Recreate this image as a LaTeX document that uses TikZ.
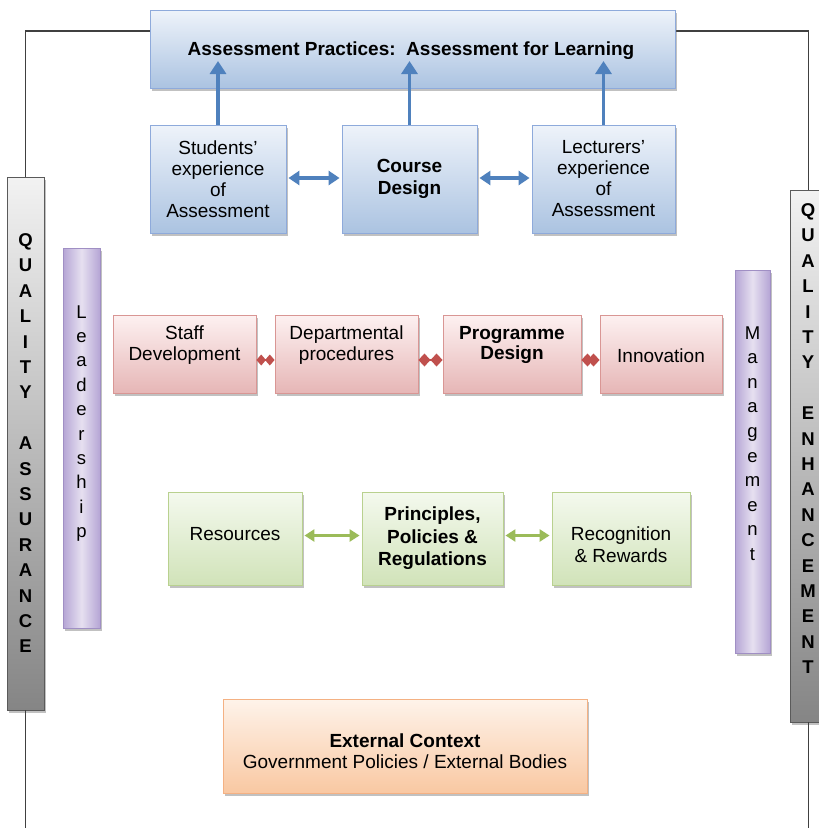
\documentclass[tikz,border=0pt]{standalone}
\usepackage{fontspec}
\setmainfont{Liberation Sans}
\usetikzlibrary{arrows.meta,shadows,calc}
\definecolor{blueT}{HTML}{EEF3FA}
\definecolor{blueB}{HTML}{ABC3E1}
\definecolor{blueBd}{HTML}{8EAADB}
\definecolor{redT}{HTML}{FDF1F1}
\definecolor{redB}{HTML}{E6B6B6}
\definecolor{redBd}{HTML}{D99694}
\definecolor{grnT}{HTML}{F4F9EE}
\definecolor{grnB}{HTML}{D1E3B9}
\definecolor{grnBd}{HTML}{B9D18F}
\definecolor{orT}{HTML}{FEF3EA}
\definecolor{orB}{HTML}{F9C8A2}
\definecolor{orBd}{HTML}{F4B183}
\definecolor{purE}{HTML}{B5A5D5}
\definecolor{purM}{HTML}{E6E0F0}
\definecolor{purBd}{HTML}{A08FC4}
\definecolor{gryT}{HTML}{F2F2F2}
\definecolor{gryB}{HTML}{858585}
\definecolor{gryBd}{HTML}{5A5A5A}
\definecolor{arrBlue}{HTML}{4F81BD}
\definecolor{arrRed}{HTML}{C0504D}
\definecolor{arrGrn}{HTML}{9BBB59}
\definecolor{frameC}{HTML}{404040}
\begin{document}
\begin{tikzpicture}[x=1pt,y=-1pt,
  box/.style={draw, line width=0.9pt, rectangle, align=center, inner sep=2pt,
    font=\fontsize{19}{21}\selectfont,
    drop shadow={shadow xshift=2pt,shadow yshift=-3pt,opacity=0.4,fill=black!60}},
  bluebox/.style={box, draw=blueBd, top color=blueT, bottom color=blueB},
  redbox/.style={box, draw=redBd, top color=redT, bottom color=redB},
  grnbox/.style={box, draw=grnBd, top color=grnT, bottom color=grnB},
  orbox/.style={box, draw=orBd, top color=orT, bottom color=orB},
  purbar/.style={box, draw=purBd, left color=purE, right color=purE, middle color=purM},
  grybar/.style={box, draw=gryBd, top color=gryT, bottom color=gryB},
  txt/.style={align=center, inner sep=0pt, font=\fontsize{19}{21}\selectfont},
  vlet/.style={inner sep=0pt, font=\fontsize{18.5}{18.5}\selectfont\bfseries},
  llet/.style={inner sep=0pt, font=\fontsize{18.5}{18.5}\selectfont},
  frame/.style={draw=frameC, line width=1.5pt},
  barr/.style={draw=arrBlue, line width=3.5pt, -{Triangle[width=16pt,length=13pt]}},
  bdarr/.style={draw=arrBlue, line width=3.5pt, {Triangle[width=14pt,length=11pt]}-{Triangle[width=14pt,length=11pt]}},
  rdarr/.style={draw=arrRed, line width=2pt, {Diamond[width=13pt,length=12pt]}-{Diamond[width=13pt,length=12pt]}},
  rdarrs/.style={draw=arrRed, line width=2pt, {Diamond[width=11pt,length=9.5pt]}-{Diamond[width=11pt,length=9.5pt]}},
  gdarr/.style={draw=arrGrn, line width=3pt, {Triangle[width=12pt,length=10pt]}-{Triangle[width=12pt,length=10pt]}}
]
\useasboundingbox (0,0) rectangle (819,828);
\fill[white] (0,0) rectangle (819,828);

% side bars
\node[grybar, minimum width=37pt, minimum height=533pt] (qa) at (25.5,443.5) {};
\node[grybar, minimum width=37pt, minimum height=532pt] (qe) at (808.5,456) {};
\node[purbar, minimum width=37pt, minimum height=380pt] (lead) at (81.5,438) {};
\node[purbar, minimum width=35pt, minimum height=383pt] (mgmt) at (752.5,461.5) {};

% frame lines
\coordinate (tl) at (150,31);
\coordinate (tr) at (675,31);
\coordinate (bot) at (0,828);
\draw[frame] (tl) -| (qa.north);
\draw[frame] (tr) -| (qe.north);
\draw[frame] (qa.south) -- (qa.south |- bot);
\draw[frame] (qe.south) -- (qe.south |- bot);

% vertical letters
\foreach \ch/\k in {Q/0,U/1,A/2,L/3,I/4,T/5,Y/6,A/8,S/9,S/10,U/11,R/12,A/13,N/14,C/15,E/16}
  \node[vlet, anchor=base] (qa-\k) at (25.5,{246.4+25.4*\k}) {\ch};
\foreach \ch/\k in {Q/0,U/1,A/2,L/3,I/4,T/5,Y/6,E/8,N/9,H/10,A/11,N/12,C/13,E/14,M/15,E/16,N/17,T/18}
  \node[vlet, anchor=base] (qe-\k) at (808,{216.4+25.4*\k}) {\ch};
\foreach \ch/\k in {L/0,e/1,a/2,d/3,e/4,r/5,s/6,h/7,i/8,p/9}
  \node[llet, anchor=base] (ld-\k) at (81.5,{318+24.4*\k}) {\ch};
\foreach \ch/\k in {M/0,a/1,n/2,a/3,g/4,e/5,m/6,e/7,n/8,t/9}
  \node[llet, anchor=base] (mg-\k) at (752.5,{339+24.6*\k}) {\ch};

% top box
\node[bluebox, minimum width=525pt, minimum height=78pt] (top) at (412.5,49) {};
\node[txt, font=\fontsize{19}{21}\selectfont\bfseries] (toptxt) at (411,51) {Assessment Practices:\ \ Assessment for Learning};

% course row
\node[bluebox, minimum width=136pt, minimum height=108pt] (stud) at (218,179) {Students'\\experience\\of\\Assessment};
\node[bluebox, minimum width=135pt, minimum height=108pt, font=\fontsize{19}{22}\selectfont\bfseries] (course) at (409.5,179) {Course\\Design};
\node[bluebox, minimum width=143pt, minimum height=108pt] (lect) at (603.5,179) {Lecturers'\\experience\\of\\Assessment};

\coordinate (tip) at (0,61);
\draw[barr] (stud.north) -- (stud.north |- tip);
\draw[barr] (course.north) -- (course.north |- tip);
\draw[barr] (lect.north) -- (lect.north |- tip);
\draw[bdarr] ([xshift=2pt,yshift=1pt]stud.east) -- ([xshift=-2pt,yshift=1pt]course.west);
\draw[bdarr] ([xshift=2pt,yshift=1pt]course.east) -- ([xshift=-2pt,yshift=1pt]lect.west);

% programme row
\node[redbox, minimum width=143pt, minimum height=78pt] (staff) at (184.5,354) {};
\node[txt] (stafftxt) at (184.5,345) {Staff\\Development};
\node[redbox, minimum width=143pt, minimum height=78pt] (dept) at (346.5,354) {};
\node[txt] (depttxt) at (346.5,345) {Departmental\\procedures};
\node[redbox, minimum width=138pt, minimum height=78pt] (prog) at (512,354) {};
\node[txt, font=\fontsize{19}{20}\selectfont\bfseries] (progtxt) at (512,345) {Programme\\Design};
\node[redbox, minimum width=122pt, minimum height=78pt] (innov) at (661,354) {};
\node[txt] (innovtxt) at (661,356) {Innovation};

\draw[rdarrs] ([yshift=-6pt]staff.east) -- ([yshift=-6pt]dept.west);
\draw[rdarr] ([yshift=-6pt]dept.east) -- ([yshift=-6pt]prog.west);
\draw[rdarr] ([yshift=-6pt]prog.east) -- ([yshift=-6pt]innov.west);

% principles row
\node[grnbox, minimum width=134pt, minimum height=93pt] (res) at (235,538.5) {};
\node[txt] (restxt) at (235,534) {Resources};
\node[grnbox, minimum width=141pt, minimum height=93pt, font=\fontsize{19}{22.5}\selectfont\bfseries] (princ) at (432.5,538.5) {Principles,\\Policies \&\\Regulations};
\node[grnbox, minimum width=138pt, minimum height=93pt] (recog) at (621,538.5) {};
\node[txt, font=\fontsize{19}{22}\selectfont] (recogtxt) at (621,545) {Recognition\\\& Rewards};

\draw[gdarr] ([xshift=2pt,yshift=3pt]res.east) -- ([xshift=-2pt,yshift=3pt]princ.west);
\draw[gdarr] ([xshift=2pt,yshift=3pt]princ.east) -- ([xshift=-2pt,yshift=3pt]recog.west);

% external context
\node[orbox, minimum width=364pt, minimum height=94pt] (ext) at (405,746) {};
\node[txt] (exttxt) at (405,751) {\textbf{External Context}\\Government Policies / External Bodies};
\end{tikzpicture}
\end{document}
